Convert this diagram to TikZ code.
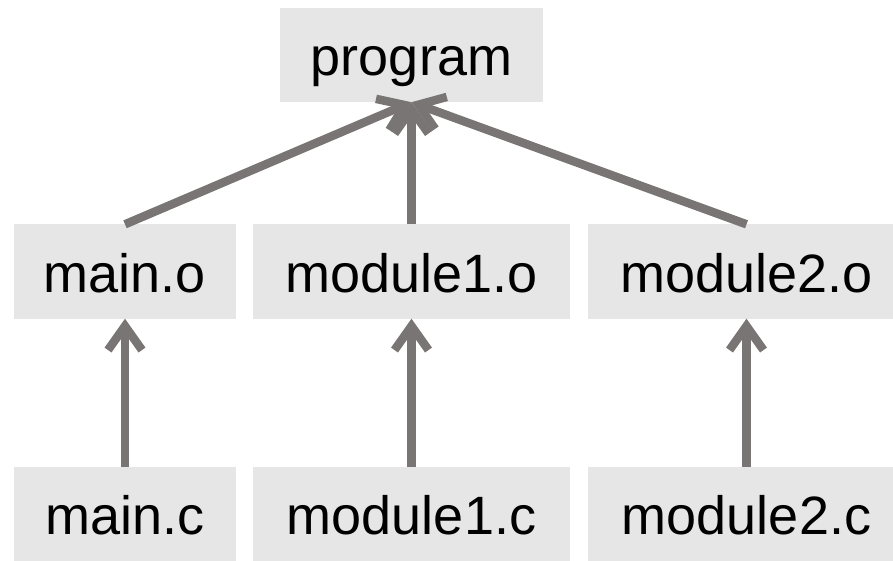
\documentclass[tikz,border=0pt]{standalone}
\usepackage{fontspec}
\setmainfont{Liberation Sans}
\usetikzlibrary{arrows.meta}
\definecolor{boxgray}{RGB}{230,230,230}
\definecolor{arrowgray}{RGB}{121,117,117}
\begin{document}
\begin{tikzpicture}[x=1pt,y=-1pt,
  file/.style={fill=boxgray, inner sep=0pt, minimum height=94pt,
    font=\fontsize{54}{60}\selectfont, text height=41pt, text depth=0pt},
  dep/.style={draw=arrowgray, line width=8.5pt,
    -{Straight Barb[length=24pt,width=34pt]}}]
\useasboundingbox (0,0) rectangle (893,561);
% target
\node[file, minimum width=263pt] (prog) at (411.5,55) {program};
% object files
\node[file, minimum width=222pt] (mo)  at (125,271.5)   {main.o};
\node[file, minimum width=317pt] (m1o) at (411.5,271.5) {module1.o};
\node[file, minimum width=317pt] (m2o) at (746.5,271.5) {module2.o};
% sources
\node[file, minimum width=222pt] (mc)  at (125,514)   {main.c};
\node[file, minimum width=317pt] (m1c) at (411.5,514) {module1.c};
\node[file, minimum width=317pt] (m2c) at (746.5,514) {module2.c};
% link step
\draw[dep] (mo.north)  -- (prog.south);
\draw[dep] (m1o.north) -- (prog.south);
\draw[dep] (m2o.north) -- (prog.south);
% compile step
\draw[dep] (mc.north)  -- (mo.south);
\draw[dep] (m1c.north) -- (m1o.south);
\draw[dep] (m2c.north) -- (m2o.south);
\end{tikzpicture}
\end{document}
